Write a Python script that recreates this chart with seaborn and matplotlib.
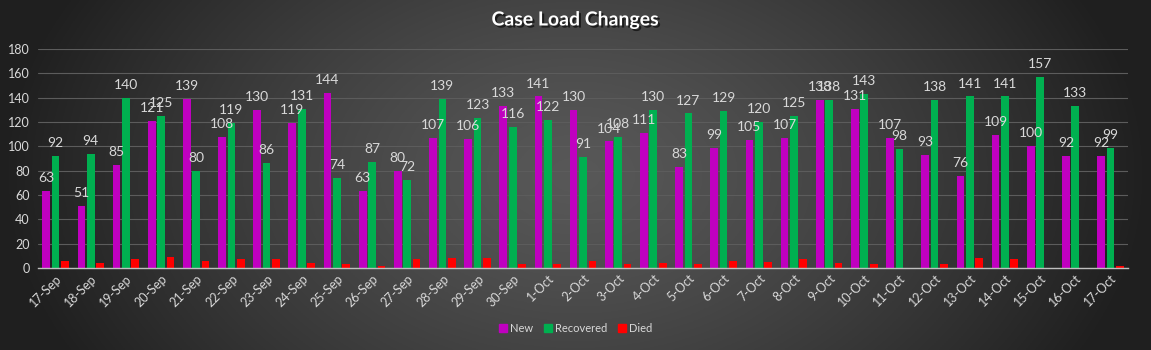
import numpy as np
import pandas as pd
import matplotlib
matplotlib.use("Agg")
import matplotlib.pyplot as plt
import matplotlib.patheffects as pe
import seaborn as sns
from matplotlib.lines import Line2D

dates = ["17-Sep", "18-Sep", "19-Sep", "20-Sep", "21-Sep", "22-Sep", "23-Sep", "24-Sep",
         "25-Sep", "26-Sep", "27-Sep", "28-Sep", "29-Sep", "30-Sep", "1-Oct", "2-Oct",
         "3-Oct", "4-Oct", "5-Oct", "6-Oct", "7-Oct", "8-Oct", "9-Oct", "10-Oct",
         "11-Oct", "12-Oct", "13-Oct", "14-Oct", "15-Oct", "16-Oct", "17-Oct"]
new = [63, 51, 85, 121, 139, 108, 130, 119, 144, 63, 80, 107, 106, 133, 141, 130,
       104, 111, 83, 99, 105, 107, 138, 131, 107, 93, 76, 109, 100, 92, 92]
recovered = [92, 94, 140, 125, 80, 119, 86, 131, 74, 87, 72, 139, 123, 116, 122, 91,
             108, 130, 127, 129, 120, 125, 138, 143, 98, 138, 141, 141, 157, 133, 99]
died = [6, 4, 7, 9, 6, 7, 7, 4, 3, 2, 7, 8, 8, 3, 3, 6,
        3, 4, 3, 6, 5, 7, 4, 3, 0, 3, 8, 7, 0, 0, 2]
series = ["New", "Recovered", "Died"]
colors = ["#C000C0", "#00B050", "#FF0000"]

df = pd.DataFrame({
    "date": dates * 3,
    "value": new + recovered + died,
    "series": [s for s in series for _ in dates],
})

sns.set_theme(style="dark")
plt.rcParams["font.family"] = ["Lato", "DejaVu Sans"]

fig = plt.figure(figsize=(11.51, 3.5), dpi=100)

# radial-ish background gradient
bg = fig.add_axes([0, 0, 1, 1], zorder=-10)
xs = np.linspace(0, 1, 600)
ys = np.linspace(0, 1, 200)
X, Y = np.meshgrid(xs, ys)
r = np.sqrt(((X - 0.5) / 0.5) ** 2 + (0.45 * (Y - 0.5) / 0.5) ** 2)
r = np.clip(r, 0, 1) ** 1.3
light = np.array([0x58, 0x58, 0x58]) / 255
dark = np.array([0x1f, 0x1f, 0x1f]) / 255
img = light[None, None, :] + (dark - light)[None, None, :] * r[:, :, None]
bg.imshow(img, aspect="auto", extent=[0, 1, 0, 1], origin="lower")
bg.set_axis_off()

ax = fig.add_axes([38 / 1151, 1 - 268 / 350, (1128 - 38) / 1151, (268 - 49) / 350])
ax.set_facecolor("none")
sns.barplot(data=df, x="date", y="value", hue="series", hue_order=series,
            palette=colors, width=0.8, gap=0.18, saturation=1, linewidth=0,
            ax=ax, legend=False)

ax.set_ylim(0, 180)
ax.set_xlim(-0.5, len(dates) - 0.5)
ax.set_yticks(range(0, 181, 20))
ax.grid(axis="y", color="#5c5c5c", linewidth=0.8)
ax.grid(axis="x", visible=False)
ax.set_axisbelow(True)
for s in ["top", "right", "left"]:
    ax.spines[s].set_visible(False)
ax.spines["bottom"].set_color("#bfbfbf")
ax.spines["bottom"].set_linewidth(1)
ax.set_xlabel("")
ax.set_ylabel("")

ax.tick_params(axis="y", colors="#d9d9d9", labelsize=9, length=0, pad=6)
ax.tick_params(axis="x", colors="#d9d9d9", labelsize=9, length=0, pad=3)
ax.set_xticks(range(len(dates)))
ax.set_xticklabels(dates, rotation=45, ha="right", rotation_mode="anchor")
ax.set_xticks(np.arange(-0.5, len(dates), 1), minor=True)
ax.tick_params(axis="x", which="minor", length=5, color="#bfbfbf", width=1)

for cont in ax.containers[:2]:
    ax.bar_label(cont, padding=5, color="#d9d9d9", fontsize=10)

fig.text(0.5, 1 - 20 / 350, "Case Load Changes", ha="center", va="center",
         color="white", fontsize=14, fontweight="bold",
         path_effects=[pe.withSimplePatchShadow(offset=(1.5, -1.5), shadow_rgbFace="black", alpha=0.6)])

handles = [Line2D([0], [0], marker="s", linestyle="", markersize=5.5,
                  markerfacecolor=c, markeredgecolor=c) for c in colors]
fig.legend(handles, series, loc="center", bbox_to_anchor=(0.5, 1 - 328 / 350),
           ncol=3, frameon=False, fontsize=8, labelcolor="#d9d9d9",
           handletextpad=0.25, columnspacing=0.9, handlelength=0.8)

fig.savefig("out.png", dpi=100)
